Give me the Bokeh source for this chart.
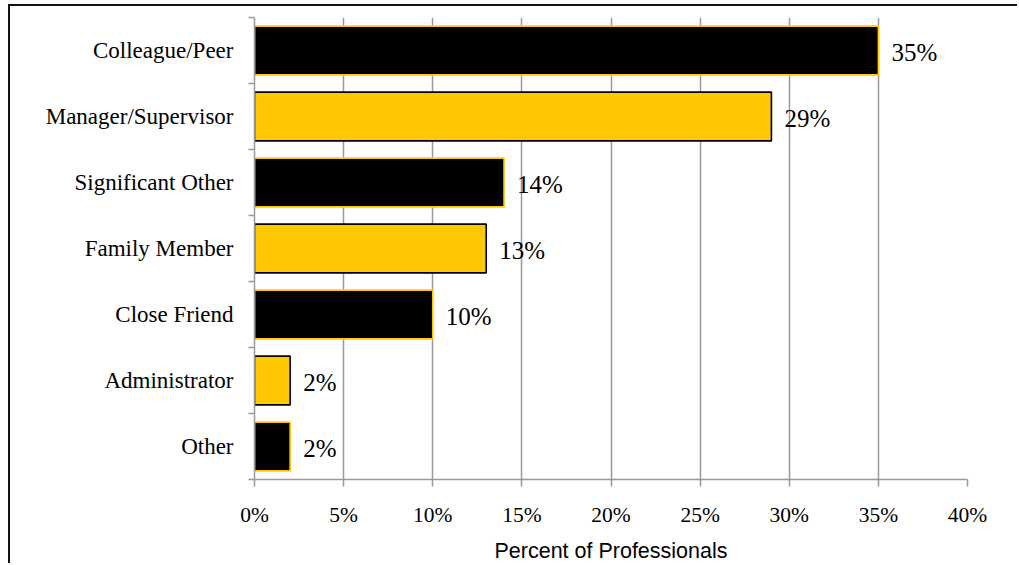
from bokeh.plotting import figure
from bokeh.models import ColumnDataSource, FixedTicker, Range1d
from bokeh.core.properties import value
from bokeh.embed import file_html
from bokeh.resources import INLINE

categories = ["Colleague/Peer", "Manager/Supervisor", "Significant Other",
              "Family Member", "Close Friend", "Administrator", "Other"]
percents = [35, 29, 14, 13, 10, 2, 2]
x_ticks = [0, 5, 10, 15, 20, 25, 30, 35, 40]
x_tick_labels = ["0%", "5%", "10%", "15%", "20%", "25%", "30%", "35%", "40%"]
x_title = "Percent of Professionals"

BLACK = "#000000"
GOLD = "#FFC800"

n = len(categories)
ys = [n - 1 - i + 0.5 for i in range(n)]
fills = [BLACK if i % 2 == 0 else GOLD for i in range(n)]
lines = [GOLD if i % 2 == 0 else BLACK for i in range(n)]
labels = [f"{v}%" for v in percents]

src = ColumnDataSource(dict(y=ys, v=percents, fill=fills, line=lines, lab=labels, cat=categories))

W, H = 1009, 559
p = figure(width=W, height=H, output_backend="svg", toolbar_location=None,
           x_range=Range1d(0, 40), y_range=Range1d(0, n),
           min_border_left=244, min_border_right=52, min_border_top=11, min_border_bottom=83,
           background_fill_color="white", border_fill_color="white",
           margin=(4, 0, 0, 8))
p.styles = {"border-top": "2px solid #111111", "border-left": "2px solid #111111"}
p.outline_line_color = None

p.hbar(y="y", right="v", left=0, height=0.74, fill_color="fill", line_color="line",
       line_width=1.6, source=src)
p.text(x="v", y="y", text="lab", x_offset=13, y_offset=2, text_baseline="middle",
       text_align="left", text_font=value("Liberation Serif"), text_font_size="25px",
       text_color="#000000", source=src)

GRAY = "#999999"
# x axis
xa = p.xaxis[0]
xa.ticker = FixedTicker(ticks=x_ticks)
xa.major_label_overrides = {t: l for t, l in zip(x_ticks, x_tick_labels)}
xa.axis_line_color = GRAY
xa.axis_line_width = 1.5
xa.major_tick_line_color = GRAY
xa.major_tick_line_width = 1.5
xa.major_tick_out = 7
xa.major_tick_in = 0
xa.minor_tick_line_color = None
xa.major_label_text_font = "Liberation Serif"
xa.major_label_text_font_size = "21.5px"
xa.major_label_text_color = "#000000"
xa.major_label_standoff = 16
xa.axis_label = x_title
xa.axis_label_text_font = "Liberation Sans"
xa.axis_label_text_font_style = "normal"
xa.axis_label_text_font_size = "21.5px"
xa.axis_label_text_color = "#000000"
xa.axis_label_standoff = 9

# y axis
ya = p.yaxis[0]
ya.ticker = FixedTicker(ticks=ys, minor_ticks=[float(i) for i in range(n + 1)])
ya.major_label_overrides = {y: c for y, c in zip(ys, categories)}
ya.axis_line_color = GRAY
ya.axis_line_width = 1.5
ya.major_tick_line_color = None
ya.major_tick_out = 0
ya.major_tick_in = 0
ya.minor_tick_line_color = GRAY
ya.minor_tick_line_width = 1.5
ya.minor_tick_out = 6
ya.minor_tick_in = 0
ya.major_label_text_font = "Liberation Serif"
ya.major_label_text_font_size = "23px"
ya.major_label_text_color = "#000000"
ya.major_label_standoff = 15

p.xgrid.grid_line_color = GRAY
p.xgrid.grid_line_width = 1.5
p.xgrid.ticker = FixedTicker(ticks=x_ticks)
p.ygrid.grid_line_color = None

open("out.html", "w").write(file_html(p, INLINE))
